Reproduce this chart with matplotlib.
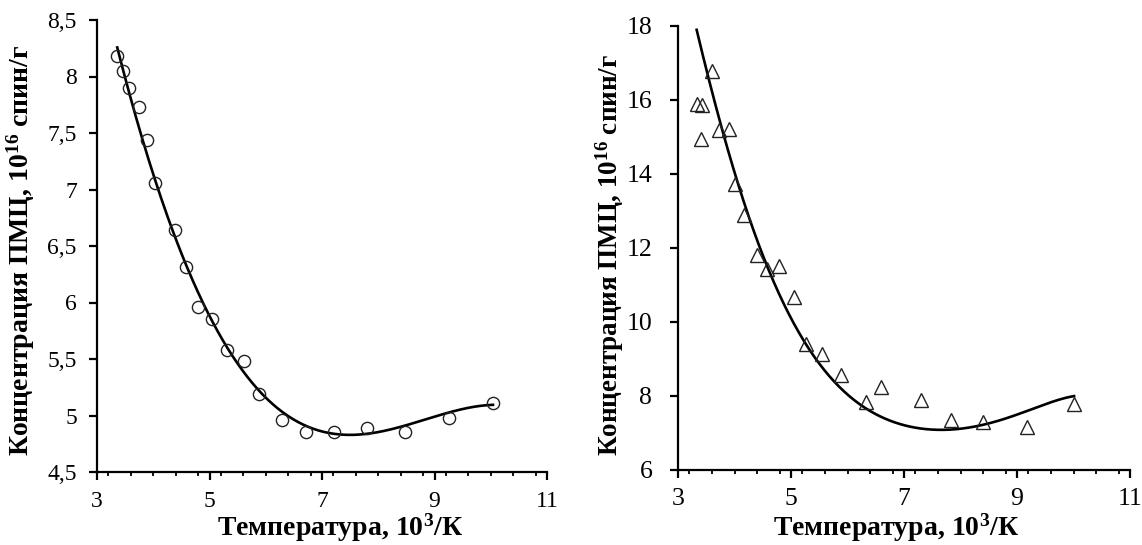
import numpy as np
import matplotlib
matplotlib.use("Agg")
import matplotlib.pyplot as plt
from matplotlib.ticker import MultipleLocator, FuncFormatter

plt.rcParams['font.family'] = ['Liberation Serif', 'DejaVu Serif']
plt.rcParams['mathtext.fontset'] = 'custom'
plt.rcParams['mathtext.rm'] = 'Liberation Serif'
plt.rcParams['mathtext.bf'] = 'Liberation Serif:bold'

# Left panel (circles)
x_left = [3.36, 3.46, 3.57, 3.74, 3.88, 4.03, 4.39, 4.58, 4.80, 5.04, 5.31, 5.61,
          5.88, 6.29, 6.72, 7.21, 7.80, 8.48, 9.26, 10.04]
y_left = [8.18, 8.05, 7.90, 7.73, 7.44, 7.06, 6.64, 6.31, 5.96, 5.85, 5.58, 5.48,
          5.19, 4.96, 4.85, 4.85, 4.89, 4.85, 4.98, 5.11]
# Left trend line
fit_x_left = [3.36, 3.57, 3.88, 4.03, 4.39, 4.48, 4.80, 5.31, 5.90, 6.43, 7.22, 7.79,
              8.48, 9.26, 10.04]
fit_y_left = [8.18, 7.88, 7.44, 7.10, 6.62, 6.43, 5.99, 5.59, 5.20, 5.00, 4.87, 4.86,
              4.89, 5.00, 5.11]

# Right panel (triangles)
x_right = [3.34, 3.43, 3.41, 3.60, 3.73, 3.90, 4.01, 4.17, 4.39, 4.57, 4.79, 5.05,
           5.27, 5.54, 5.88, 6.32, 6.60, 7.30, 7.83, 8.40, 9.17, 10.01]
y_right = [15.89, 15.86, 14.94, 16.79, 15.19, 15.22, 13.73, 12.89, 11.81, 11.42, 11.51, 10.68,
           9.41, 9.14, 8.56, 7.84, 8.25, 7.89, 7.35, 7.31, 7.15, 7.78]
# Right trend line
fit_x_right = [3.33, 3.55, 3.77, 4.05, 4.39, 4.63, 4.98, 5.27, 5.87, 6.34, 6.81, 7.34,
               7.87, 8.46, 9.17, 10.01]
fit_y_right = [17.82, 16.72, 15.19, 13.73, 12.22, 11.42, 10.10, 9.41, 8.25, 7.62, 7.31, 7.10,
               7.10, 7.26, 7.58, 8.00]

left_yticks = [4.5, 5, 5.5, 6, 6.5, 7, 7.5, 8, 8.5]
right_yticks = [6, 8, 10, 12, 14, 16, 18]
xticks = [3, 5, 7, 9, 11]

xlabel = 'Температура, $\\mathbf{10^{3}}$/К'
ylabel = 'Концентрация ПМЦ, $\\mathbf{10^{16}}$ спин/г'

fig = plt.figure(figsize=(11.42, 5.45), dpi=100)
axL = fig.add_axes([97/1142, 1-472/545, 450/1142, 452/545])
axR = fig.add_axes([678/1142, 1-470/545, 452/1142, 444/545])


def trend(ax, fx, fy, deg):
    c = np.polyfit(fx, fy, deg)
    xs = np.linspace(min(fx), max(fx), 300)
    ax.plot(xs, np.polyval(c, xs), color='black', lw=1.9, zorder=2)


def style(ax, yticks, ylim, tick_fs, comma, ypad, xpad):
    ax.set_xlim(3, 11)
    ax.set_ylim(*ylim)
    ax.set_xticks(xticks)
    ax.xaxis.set_minor_locator(MultipleLocator(0.4))
    ax.set_yticks(yticks)
    if comma:
        ax.yaxis.set_major_formatter(FuncFormatter(lambda v, p: ('%g' % v).replace('.', ',')))
    for s in ['top', 'right']:
        ax.spines[s].set_visible(False)
    for s in ['left', 'bottom']:
        ax.spines[s].set_linewidth(1.6)
    ax.tick_params(which='major', direction='out', length=5.5, width=1.6, labelsize=tick_fs)
    ax.tick_params(axis='y', which='major', pad=ypad)
    ax.tick_params(axis='x', which='major', pad=xpad)
    ax.tick_params(which='minor', direction='out', length=3, width=1.3)
    ax.tick_params(axis='y', which='minor', left=False)


trend(axL, fit_x_left, fit_y_left, 4)
axL.plot(x_left, y_left, 'o', mfc='none', mec='#222222', mew=1.0, ms=8.8, zorder=3)
style(axL, left_yticks, (4.5, 8.5), 17, True, 9, 8)
axL.set_xlabel(xlabel, fontsize=20, fontweight='bold')
axL.set_ylabel(ylabel, fontsize=20, fontweight='bold')
axL.xaxis.set_label_coords(0.54, -0.1416)
axL.xaxis.label.set_verticalalignment('baseline')
axL.yaxis.set_label_coords(-0.151, 0.49)
axL.yaxis.label.set_verticalalignment('baseline')

trend(axR, fit_x_right, fit_y_right, 6)
axR.plot(x_right, y_right, '^', mfc='none', mec='#222222', mew=1.0, ms=9.5, zorder=3)
style(axR, right_yticks, (6, 18), 18.5, False, 13, 7.5)
axR.set_xlabel(xlabel, fontsize=20, fontweight='bold')
axR.set_ylabel(ylabel, fontsize=19.5, fontweight='bold')
axR.xaxis.set_label_coords(0.482, -0.1486)
axR.xaxis.label.set_verticalalignment('baseline')
axR.yaxis.set_label_coords(-0.134, 0.484)
axR.yaxis.label.set_verticalalignment('baseline')

fig.savefig('out.png', dpi=100)
